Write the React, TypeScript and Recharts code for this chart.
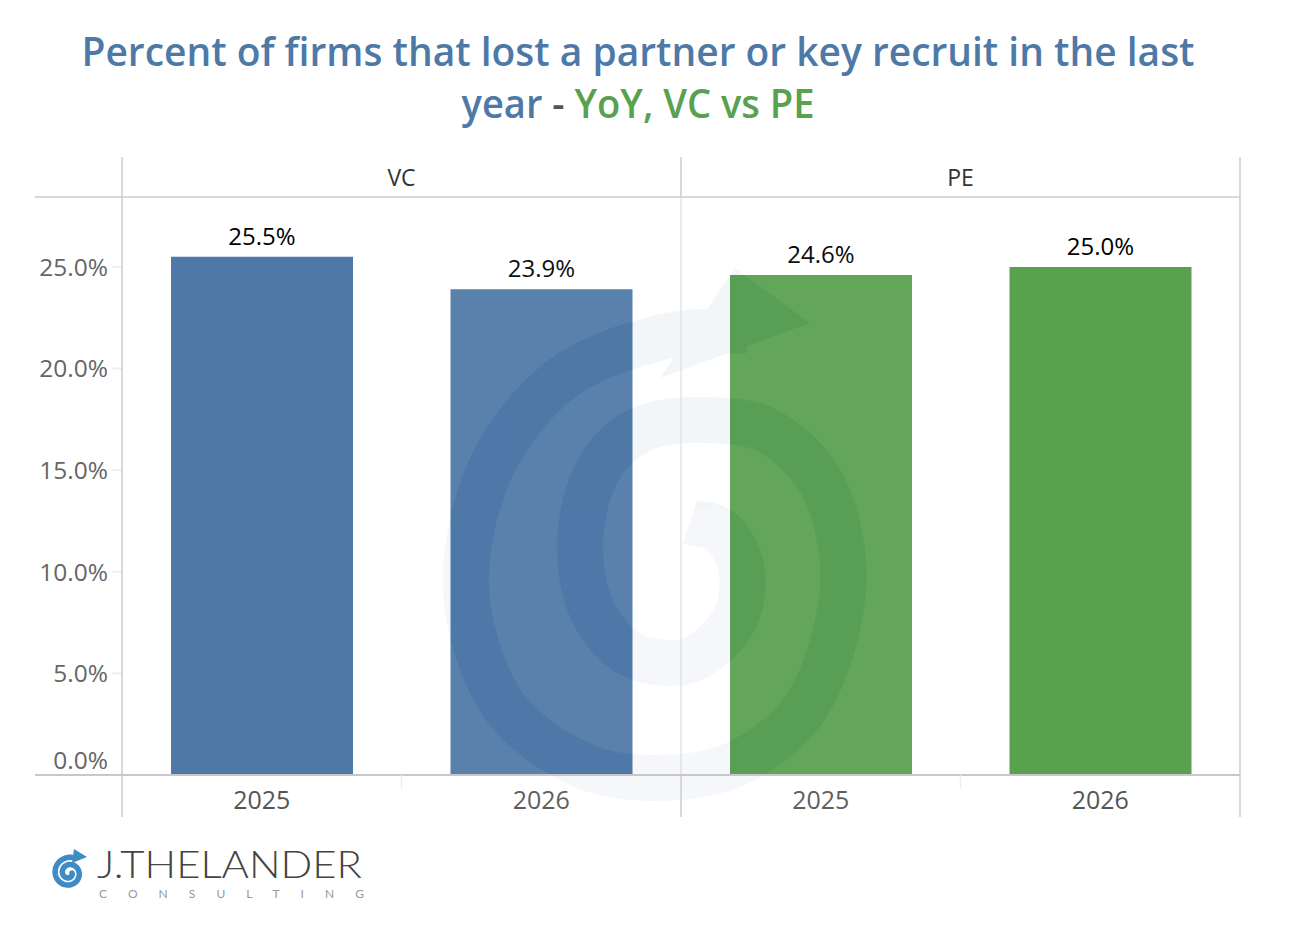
import React from 'react';
import { BarChart, Bar, XAxis, YAxis, Cell, LabelList } from 'recharts';

const panels = ['VC', 'VC', 'PE', 'PE'];
const years = ['2025', '2026', '2025', '2026'];
const values = [25.5, 23.9, 24.6, 25.0];
const barColors = ['#4E79A7', '#4E79A7', '#59A14F', '#59A14F'];
const yTicks = [0, 5, 10, 15, 20, 25];
const panelNames = ['VC', 'PE'];

const data = values.map((v, i) => ({
  key: `${panels[i]} ${years[i]}`,
  panel: panels[i],
  year: years[i],
  value: v,
}));

const FONT = "'Open Sans', 'Noto Sans', sans-serif";

const W = 1312;
const H = 938;
const PLOT_L = 122;
const PLOT_R = 1240;
const PLOT_T = 197;
const PLOT_B = 775;
const MID = (PLOT_L + PLOT_R) / 2;
const XAXIS_H = 30;

// watermark spiral centerline (decoration only)
const wmPts: [number, number][] = [
  [745, 330], [658, 338], [560, 380], [490, 470], [466, 589], [500, 700], [575, 762],
  [654, 778], [740, 762], [810, 700], [843, 589], [825, 490], [770, 432], [700, 420],
  [640, 430], [598, 470], [580, 540], [592, 610], [632, 655], [690, 660], [733, 622],
  [742, 572], [722, 532], [690, 522],
];

function smoothPath(pts: [number, number][]) {
  let d = `M${pts[0][0]},${pts[0][1]}`;
  for (let i = 0; i < pts.length - 1; i++) {
    const p0 = pts[Math.max(0, i - 1)];
    const p1 = pts[i];
    const p2 = pts[i + 1];
    const p3 = pts[Math.min(pts.length - 1, i + 2)];
    const c1x = p1[0] + (p2[0] - p0[0]) / 6;
    const c1y = p1[1] + (p2[1] - p0[1]) / 6;
    const c2x = p2[0] - (p3[0] - p1[0]) / 6;
    const c2y = p2[1] - (p3[1] - p1[1]) / 6;
    d += ` C${c1x.toFixed(1)},${c1y.toFixed(1)} ${c2x.toFixed(1)},${c2y.toFixed(1)} ${p2[0]},${p2[1]}`;
  }
  return d;
}

function spiralPath(cx: number, cy: number, r0: number, r1: number, a0: number, a1: number, steps: number) {
  let d = '';
  for (let i = 0; i <= steps; i++) {
    const t = i / steps;
    const a = a0 + (a1 - a0) * t;
    const r = r0 + (r1 - r0) * t;
    const px = cx + r * Math.cos(a);
    const py = cy + r * Math.sin(a);
    d += `${i === 0 ? 'M' : 'L'}${px.toFixed(1)},${py.toFixed(1)} `;
  }
  return d;
}

const YTick = (props: any) => {
  const { x, y, payload } = props;
  const dy = payload.value === 0 ? -15 : 0;
  return (
    <text x={x} y={y + dy} dy="0.36em" textAnchor="end" fill="#666" fontSize={24.5} fontFamily={FONT}>
      {`${Number(payload.value).toFixed(1)}%`}
    </text>
  );
};

const XTick = (props: any) => {
  const { x, payload } = props;
  const idx = data.findIndex((d) => d.key === payload.value);
  return (
    <text x={x} y={PLOT_B + 25} dy="0.36em" textAnchor="middle" fill="#555" fontSize={25} fontFamily={FONT}>
      {idx >= 0 ? data[idx].year : ''}
    </text>
  );
};

export default function App() {
  const band = (PLOT_R - PLOT_L) / 4;
  const wmD = smoothPath(wmPts);
  return (
    <div style={{ position: 'absolute', left: 0, top: 0, width: W, height: H, background: '#fff', fontFamily: FONT }}>
      <div style={{ position: 'absolute', left: 0, top: 0 }}>
        <BarChart
          width={W}
          height={H}
          data={data}
          margin={{ top: PLOT_T, bottom: H - PLOT_B - XAXIS_H, left: 35, right: W - PLOT_R }}
          barSize={182}
        >
          <YAxis
            type="number"
            domain={[0, 28.44]}
            ticks={yTicks}
            width={PLOT_L - 35}
            axisLine={false}
            tickLine={{ stroke: '#eeeeee', strokeWidth: 2 }}
            tickSize={10}
            tickMargin={4}
            tick={<YTick />}
            interval={0}
            allowDataOverflow
          />
          <XAxis dataKey="key" height={XAXIS_H} axisLine={false} tickLine={false} tick={<XTick />} interval={0} />
          <Bar dataKey="value" isAnimationActive={false}>
            {data.map((d, i) => (
              <Cell key={d.key} fill={barColors[i]} />
            ))}
            <LabelList
              dataKey="value"
              position="top"
              offset={12}
              formatter={(v: any) => `${Number(v).toFixed(1)}%`}
              fill="#000"
              fontSize={24}
              fontFamily={FONT}
            />
          </Bar>
        </BarChart>
      </div>

      {/* watermark + frame / header overlay */}
      <svg width={W} height={H} style={{ position: 'absolute', left: 0, top: 0, pointerEvents: 'none' }}>
        <defs>
          <mask id="wmGap">
            <rect x={0} y={0} width={W} height={H} fill="#fff" />
            <path d={wmD} fill="none" stroke="#000" strokeWidth={46} strokeLinecap="butt" />
            <path d="M735,268 L810,323 L660,378 Z" fill="#000" />
          </mask>
        </defs>
        <rect x={430} y={252} width={485} height={560} fill="#ffffff" opacity={0.06} mask="url(#wmGap)" />
        <g opacity={0.06}>
          <path d={wmD} fill="none" stroke="#4E79A7" strokeWidth={46} strokeLinecap="butt" />
          <path d="M735,268 L810,323 L660,378 Z" fill="#4E79A7" />
        </g>

        <text x={638} y={66} textAnchor="middle" fill="#4E79A7" fontSize={39} fontWeight={600} fontFamily={FONT} textLength={1113} lengthAdjust="spacingAndGlyphs">
          Percent of firms that lost a partner or key recruit in the last
        </text>
        <text x={638} y={118} textAnchor="middle" fontSize={39} fontWeight={600} fontFamily={FONT} textLength={353} lengthAdjust="spacingAndGlyphs">
          <tspan fill="#4E79A7">year </tspan>
          <tspan fill="#555555">- </tspan>
          <tspan fill="#59A14F">YoY, VC vs PE</tspan>
        </text>

        {/* header row */}
        {panelNames.map((p, i) => (
          <text key={p} x={PLOT_L + (i + 0.5) * (MID - PLOT_L)} y={178} dy="0.36em" textAnchor="middle" fill="#333" fontSize={23} fontFamily={FONT}>
            {p}
          </text>
        ))}
        <line x1={PLOT_L} y1={157} x2={PLOT_L} y2={817} stroke="#cccccc" strokeWidth={1.5} />
        <line x1={MID} y1={157} x2={MID} y2={PLOT_T} stroke="#cccccc" strokeWidth={1.5} />
        <line x1={MID} y1={PLOT_T} x2={MID} y2={PLOT_B} stroke="#d6d6d6" strokeWidth={1} />
        <line x1={MID} y1={PLOT_B} x2={MID} y2={817} stroke="#cccccc" strokeWidth={1.5} />
        <line x1={PLOT_R} y1={157} x2={PLOT_R} y2={817} stroke="#cccccc" strokeWidth={1.5} />
        <line x1={35} y1={PLOT_T} x2={PLOT_R} y2={PLOT_T} stroke="#cccccc" strokeWidth={1.5} />
        <line x1={35} y1={PLOT_B} x2={PLOT_R} y2={PLOT_B} stroke="#c8c8c8" strokeWidth={2} />
        <line x1={PLOT_L + band} y1={PLOT_B} x2={PLOT_L + band} y2={PLOT_B + 14} stroke="#eeeeee" strokeWidth={1.5} />
        <line x1={PLOT_L + band * 3} y1={PLOT_B} x2={PLOT_L + band * 3} y2={PLOT_B + 14} stroke="#eeeeee" strokeWidth={1.5} />

        {/* logo */}
        <path d={spiralPath(69, 873, 3, 16, 0, Math.PI * 3.6, 120)} fill="none" stroke="#3E8CC5" strokeWidth={5.5} strokeLinecap="round" />
        <path d="M74,849 L87,857 L72,863 Z" fill="#3E8CC5" />
        <text x={97} y={878} fill="#444" fontSize={38} fontFamily="Lato, 'Open Sans', sans-serif" fontWeight={300} textLength={265} lengthAdjust="spacingAndGlyphs">
          J.THELANDER
        </text>
        <text x={99} y={898} fill="#999" fontSize={12} fontFamily="Lato, 'Open Sans', sans-serif" textLength={265} lengthAdjust="spacing">
          CONSULTING
        </text>
      </svg>
    </div>
  );
}
